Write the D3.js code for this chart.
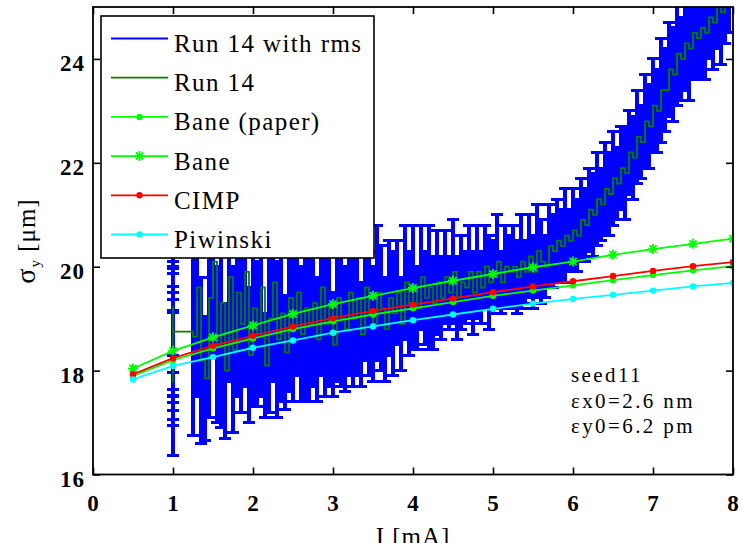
<!DOCTYPE html>
<html>
<head>
<meta charset="utf-8">
<script src="https://cdn.jsdelivr.net/npm/d3@7/dist/d3.min.js"></script>
<style>
body { margin: 0; background: #fff; }
svg text { font-family: "Liberation Serif", "DejaVu Serif", serif; fill: #000; }
</style>
</head>
<body>
<svg id="chart" width="742" height="543"></svg>
<script>

// model curves, sampled every 0.5 mA
var modelCurrent = [0.5, 1, 1.5, 2, 2.5, 3, 3.5, 4, 4.5, 5, 5.5, 6, 6.5, 7, 7.5, 8];
var banePaper = [17.9, 18.2, 18.43, 18.62, 18.8, 18.95, 19.08, 19.2, 19.32, 19.44, 19.54, 19.64, 19.74, 19.84, 19.93, 20.01];
var bane = [18.04, 18.38, 18.64, 18.87, 19.09, 19.28, 19.44, 19.59, 19.73, 19.86, 19.99, 20.1, 20.23, 20.34, 20.44, 20.54];
var cimp = [17.93, 18.24, 18.48, 18.67, 18.85, 19.01, 19.15, 19.27, 19.39, 19.51, 19.62, 19.72, 19.82, 19.92, 20.01, 20.09];
var piwinski = [17.83, 18.09, 18.26, 18.44, 18.58, 18.73, 18.85, 18.97, 19.08, 19.19, 19.29, 19.38, 19.46, 19.54, 19.62, 19.69];

// run 14 measurements: current, mean sigma_y and rms
var runCurrent = [1, 1, 1, 1, 1, 1, 1, 1, 1, 1,
	1.25, 1.3, 1.35, 1.4, 1.45, 1.5, 1.55, 1.6, 1.65, 1.7,
	1.75, 1.8, 1.85, 1.9, 1.95, 2, 2.05, 2.1, 2.15, 2.2,
	2.25, 2.3, 2.35, 2.4, 2.45, 2.5, 2.55, 2.6, 2.65, 2.7,
	2.75, 2.8, 2.85, 2.9, 2.95, 3, 3.05, 3.1, 3.15, 3.2,
	3.25, 3.3, 3.35, 3.4, 3.45, 3.5, 3.55, 3.6, 3.65, 3.7,
	3.75, 3.8, 3.85, 3.9, 3.95, 4, 4.05, 4.1, 4.15, 4.2,
	4.25, 4.3, 4.35, 4.4, 4.45, 4.5, 4.55, 4.6, 4.65, 4.7,
	4.75, 4.8, 4.85, 4.9, 4.95, 5, 5.05, 5.1, 5.15, 5.2,
	5.25, 5.3, 5.35, 5.4, 5.45, 5.5, 5.55, 5.6, 5.65, 5.7,
	5.75, 5.8, 5.85, 5.9, 5.95, 6, 6.05, 6.1, 6.15, 6.2,
	6.25, 6.3, 6.35, 6.4, 6.45, 6.5, 6.55, 6.6, 6.65, 6.7,
	6.75, 6.8, 6.85, 6.9, 6.95, 7, 7.05, 7.1, 7.15, 7.2,
	7.25, 7.3, 7.35, 7.4, 7.45, 7.5, 7.55, 7.6, 7.65, 7.7,
	7.75, 7.8, 7.85, 7.9, 7.95];
var runMean = [19.24, 19.03, 18.82, 18.68, 18.5, 18.37, 18.21, 18.03, 17.76, 18.75,
	18.65, 19.6, 18.2, 17.85, 19.4, 20.1, 18.5, 19.3, 18.0, 19.8,
	18.4, 19.5, 18.9, 19.9, 18.3, 19.2, 18.7, 19.6, 18.1, 19.0,
	19.7, 18.6, 19.1, 18.35, 19.4, 18.8, 19.5, 18.7, 19.2, 18.9,
	19.3, 18.6, 19.6, 18.9, 19.2, 18.5, 19.4, 19.0, 18.8, 19.5,
	19.0, 19.4, 18.7, 19.6, 19.1, 18.9, 19.5, 19.2, 18.8, 19.4,
	19.1, 19.5, 18.9, 19.7, 19.3, 19.6, 19.2, 19.8, 19.4, 19.6,
	19.3, 19.7, 19.4, 19.8, 19.5, 19.9, 19.4, 19.7, 19.6, 19.9,
	19.5, 19.9, 19.6, 20.0, 19.7, 19.8, 20.1, 19.7, 20.0, 19.9,
	20.0, 19.8, 20.1, 19.9, 20.2, 19.9, 20.3, 20.1, 20.0, 20.4,
	20.3, 20.5, 20.4, 20.6, 20.5, 20.7, 20.6, 20.9, 20.8, 21.1,
	21.0, 21.3, 21.2, 21.5, 21.4, 21.7, 21.6, 21.9, 21.8, 22.2,
	22.1, 22.5, 22.4, 22.8, 22.7, 23.1, 23.0, 23.4, 23.4, 23.8,
	23.7, 24.1, 24.0, 24.3, 24.2, 24.5, 24.4, 24.6, 24.5, 24.8,
	24.7, 25.0, 24.9, 25.2, 25.3];
var runRms = [0.95, 1.07, 1.19, 1.18, 1.12, 1.13, 1.16, 1.08, 1.39, 1.22,
	1.9, 2.1, 1.6, 1.2, 2.3, 1.8, 1.5, 2.4, 1.3, 2.0,
	1.6, 2.0, 1.7, 2.2, 1.3, 1.9, 1.4, 2.1, 1.0, 1.8,
	1.9, 1.5, 1.7, 1.1, 1.8, 1.4, 1.6, 1.3, 1.8, 1.5,
	1.6, 1.2, 1.7, 1.4, 1.5, 1.0, 1.6, 1.3, 1.2, 1.6,
	1.3, 1.5, 1.0, 1.4, 1.2, 1.1, 1.3, 1.2, 1.0, 1.1,
	1.2, 1.0, 0.9, 1.1, 1.0, 1.2, 0.8, 1.0, 0.9, 1.2,
	0.9, 1.0, 0.8, 0.9, 0.7, 1.0, 0.8, 0.9, 0.7, 0.9,
	0.8, 0.9, 0.7, 0.8, 0.9, 0.7, 0.9, 0.6, 0.8, 0.7,
	0.8, 0.7, 0.9, 0.6, 0.8, 0.7, 0.9, 0.8, 0.6, 0.8,
	0.7, 0.8, 0.7, 0.9, 0.6, 0.8, 0.7, 0.8, 0.7, 0.8,
	0.8, 0.9, 0.7, 0.9, 0.8, 0.9, 0.7, 0.8, 0.9, 0.8,
	0.8, 0.9, 0.7, 0.9, 0.8, 0.9, 0.8, 1.0, 0.8, 0.9,
	0.9, 1.0, 0.8, 0.9, 1.0, 0.9, 0.8, 1.0, 0.9, 0.8,
	0.9, 0.8, 1.0, 0.9, 0.8];

var xTicks = [0, 1, 2, 3, 4, 5, 6, 7, 8];
var yTicks = [16, 18, 20, 22, 24];
var legendNames = ["Run 14 with rms", "Run 14", "Bane (paper)", "Bane", "CIMP", "Piwinski"];
var noteLines = ["seed11", "\u03b5x0=2.6 nm", "\u03b5y0=6.2 pm"];

var plotLeft = 93;
var plotRight = 733;
var plotTop = 7;
var plotBottom = 474.5;
var tickLen = 7;
var capHalf = 6;

var svg = d3.select("#chart");

var x = d3.scaleLinear().domain([0, 8]).range([plotLeft, plotRight]);
var y = d3.scaleLinear().domain([16, 25]).range([plotBottom, plotTop]);

svg.append("defs").append("clipPath")
.attr("id", "plotClip")
.append("rect")
.attr("x", plotLeft)
.attr("y", plotTop)
.attr("width", plotRight-plotLeft)
.attr("height", plotBottom-plotTop);

var gData = svg.append("g").attr("clip-path", "url(#plotClip)");

// error bars
var runs = runCurrent.map(function(c, i) {
	return {c: c, m: runMean[i], r: runRms[i]};
});
var bars = gData.append("g")
.attr("stroke", "#0000ff")
.attr("fill", "none")
.attr("shape-rendering", "crispEdges");
bars.selectAll("path.bar")
.data(runs)
.enter().append("path")
.attr("class", "bar")
.attr("stroke-width", 4)
.attr("d", function(d) {
	var cx = x(d.c);
	return "M"+cx+","+y(d.m-d.r)+"V"+y(d.m+d.r);
});
bars.selectAll("path.cap")
.data(runs)
.enter().append("path")
.attr("class", "cap")
.attr("stroke-width", 3)
.attr("d", function(d) {
	var cx = x(d.c), y0 = y(d.m-d.r), y1 = y(d.m+d.r);
	return "M"+(cx-capHalf)+","+y0+"H"+(cx+capHalf)+
		"M"+(cx-capHalf)+","+y1+"H"+(cx+capHalf);
});

// run 14 line
gData.append("path")
.datum(runs)
.attr("fill", "none")
.attr("stroke", "#007f00")
.attr("stroke-width", 1.8)
.attr("d", d3.line()
	.curve(d3.curveStepAfter)
	.x(function(d) { return x(d.c); })
	.y(function(d) { return y(d.m); }));

// model curves
var models = [
	{values: banePaper, color: "#00ff00", marker: "dot"},
	{values: bane, color: "#00ff00", marker: "star"},
	{values: cimp, color: "#ff0000", marker: "dot"},
	{values: piwinski, color: "#00ffff", marker: "dot"}
];
var starPath = "M-5,0H5M0,-5V5M-3.6,-3.6L3.6,3.6M-3.6,3.6L3.6,-3.6";

function drawMarker(g, kind, color) {
	if (kind == "dot") {
		g.append("circle")
		.attr("r", 3.2)
		.attr("fill", color);
	} else {
		g.append("path")
		.attr("d", starPath)
		.attr("stroke", color)
		.attr("stroke-width", 1.8);
	}
}

models.forEach(function(mod) {
	var pts = modelCurrent.map(function(c, i) { return [c, mod.values[i]]; });
	gData.append("path")
	.datum(pts)
	.attr("fill", "none")
	.attr("stroke", mod.color)
	.attr("stroke-width", 1.8)
	.attr("d", d3.line()
		.x(function(d) { return x(d[0]); })
		.y(function(d) { return y(d[1]); }));
	pts.forEach(function(p) {
		var g = gData.append("g")
		.attr("transform", "translate("+[x(p[0]), y(p[1])]+")");
		drawMarker(g, mod.marker, mod.color);
	});
});

// axes, ticks on all four sides pointing inwards
var gAxes = svg.append("g");

var axBottom = gAxes.append("g")
.attr("transform", "translate(0,"+plotBottom+")")
.call(d3.axisBottom(x).tickValues(xTicks).tickSizeInner(-tickLen).tickSizeOuter(0));
axBottom.selectAll("text")
.attr("y", 36)
.attr("dy", null);

var axLeft = gAxes.append("g")
.attr("transform", "translate("+plotLeft+",0)")
.call(d3.axisLeft(y).tickValues(yTicks).tickSizeInner(-tickLen).tickSizeOuter(0));
axLeft.selectAll("text")
.attr("x", -8)
.attr("y", 11.5)
.attr("dy", null);

gAxes.append("g")
.attr("transform", "translate(0,"+plotTop+")")
.call(d3.axisTop(x).tickValues(xTicks).tickSizeInner(-tickLen).tickSizeOuter(0).tickFormat(""));
gAxes.append("g")
.attr("transform", "translate("+plotRight+",0)")
.call(d3.axisRight(y).tickValues(yTicks).tickSizeInner(-tickLen).tickSizeOuter(0).tickFormat(""));

gAxes.selectAll(".domain").remove();
gAxes.selectAll(".tick line").attr("stroke", "#000").attr("stroke-width", 1.6);
gAxes.selectAll("g").attr("font-family", null).attr("font-size", null);
gAxes.selectAll("text")
.attr("font-size", 23)
.attr("font-weight", "bold")
.style("letter-spacing", "1px");

svg.append("rect")
.attr("x", plotLeft)
.attr("y", plotTop)
.attr("width", plotRight-plotLeft)
.attr("height", plotBottom-plotTop)
.attr("fill", "none")
.attr("stroke", "#000")
.attr("stroke-width", 1.8);

// axis labels
svg.append("text")
.attr("x", (plotLeft+plotRight)/2)
.attr("y", 545)
.attr("text-anchor", "middle")
.attr("font-size", 25)
.style("letter-spacing", "1px")
.text("I [mA]");

var yLabel = svg.append("text")
.attr("transform", "translate(35,241) rotate(-90)")
.attr("text-anchor", "middle")
.attr("font-size", 25)
.style("letter-spacing", "1px");
yLabel.append("tspan").attr("font-size", 28).text("\u03c3");
yLabel.append("tspan").attr("font-size", 15).attr("dy", 5).text("y");
yLabel.append("tspan").attr("dy", -5).text(" [\u03bcm]");

// annotation
var gNote = svg.append("g").attr("font-size", 21).style("letter-spacing", "2.4px");
noteLines.forEach(function(t, i) {
	gNote.append("text")
	.attr("x", 571)
	.attr("y", 382+i*25.5)
	.text(t);
});

// legend
var legendX = 101;
var legendY = 16;
var legendW = 273;
var legendH = 242;
var legendRow = 39.2;
var legendFirst = 38.5;

var gLegend = svg.append("g");
gLegend.append("rect")
.attr("x", legendX)
.attr("y", legendY)
.attr("width", legendW)
.attr("height", legendH)
.attr("fill", "#fff")
.attr("stroke", "#000")
.attr("stroke-width", 1.6);

var legendStyles = [
	{color: "#0000ff", marker: null},
	{color: "#007f00", marker: null},
	{color: "#00ff00", marker: "dot"},
	{color: "#00ff00", marker: "star"},
	{color: "#ff0000", marker: "dot"},
	{color: "#00ffff", marker: "dot"}
];
legendNames.forEach(function(name, i) {
	var ly = legendFirst+i*legendRow;
	var st = legendStyles[i];
	gLegend.append("line")
	.attr("x1", 111)
	.attr("x2", 168)
	.attr("y1", ly)
	.attr("y2", ly)
	.attr("stroke", st.color)
	.attr("stroke-width", 1.8);
	if (st.marker) {
		var g = gLegend.append("g").attr("transform", "translate("+[139.5, ly]+")");
		drawMarker(g, st.marker, st.color);
	}
	gLegend.append("text")
	.attr("x", 174)
	.attr("y", ly+13.5)
	.attr("font-size", 25)
	.style("letter-spacing", "1.4px")
	.text(name);
});

</script>
</body>
</html>
